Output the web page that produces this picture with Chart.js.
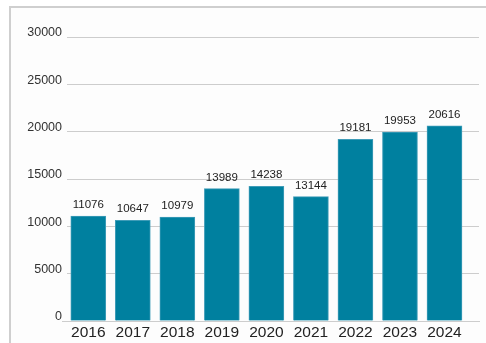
<!DOCTYPE html>
<html>
<head>
<meta charset="utf-8">
<script src="https://cdn.jsdelivr.net/npm/chart.js@4.4.1/dist/chart.umd.min.js"></script>
<style>
  html, body { margin: 0; padding: 0; background: #fff; }
  #wrap { position: relative; width: 486px; height: 343px; }
  #frame {
    position: absolute; left: 9px; top: 6px; right: 0; bottom: 0;
    border-top: 2px solid #cfcfcf; border-left: 2px solid #cfcfcf;
    background: #fdfdfd;
  }
  #chart { position: absolute; left: 0; top: 0; }
</style>
</head>
<body>
<div id="wrap">
  <div id="frame"></div>
  <canvas id="chart" width="486" height="343"></canvas>
</div>
<script>
const years = [2016, 2017, 2018, 2019, 2020, 2021, 2022, 2023, 2024];
const values = [11076, 10647, 10979, 13989, 14238, 13144, 19181, 19953, 20616];
const yTicks = [0, 5000, 10000, 15000, 20000, 25000, 30000];

const BAR = '#00809f';
const GRID = '#cdcdcd';
const FONT = "'Liberation Sans', Arial, sans-serif";

const valueLabels = {
  id: 'valueLabels',
  afterDatasetsDraw(chart) {
    const { ctx } = chart;
    const meta = chart.getDatasetMeta(0);
    ctx.save();
    ctx.font = `11.5px ${FONT}`;
    ctx.fillStyle = '#222';
    ctx.textAlign = 'center';
    ctx.textBaseline = 'alphabetic';
    meta.data.forEach((bar, i) => {
      ctx.fillText(String(values[i]), bar.x, bar.y - 8);
    });
    ctx.restore();
  },
};

new Chart(document.getElementById('chart'), {
  type: 'bar',
  data: {
    datasets: [{
      data: years.map((y, i) => ({ x: y, y: values[i] })),
      backgroundColor: BAR,
      borderColor: '#3f9cb8',
      borderWidth: 1,
      barThickness: 35,
    }],
  },
  options: {
    responsive: false,
    animation: false,
    events: [],
    layout: { padding: { top: 37, right: 7, bottom: 0, left: 0 } },
    plugins: { legend: { display: false }, tooltip: { enabled: false } },
    scales: {
      x: {
        type: 'linear',
        offset: false,
        min: 2015.522,
        max: 2024.775,
        afterFit: s => { s.height = 22; },
        ticks: {
          stepSize: 1,
          includeBounds: false,
          autoSkip: false,
          maxRotation: 0,
          padding: 2,
          color: '#222',
          font: { family: FONT, size: 15.5 },
          callback: v => Number.isInteger(v) ? String(v) : '',
        },
        grid: { display: false, drawTicks: false, offset: false },
        border: { display: true, color: GRID, width: 1 },
      },
      y: {
        min: 0,
        max: 30000,
        afterFit: s => { s.width = 67; },
        afterBuildTicks: s => { s.ticks = yTicks.map(v => ({ value: v })); },
        ticks: {
          padding: 0,
          labelOffset: -4,
          color: '#333',
          font: { family: FONT, size: 12.5 },
          callback: v => String(v),
        },
        grid: {
          color: GRID,
          lineWidth: 1,
          drawTicks: true,
          tickLength: 5,
          tickColor: c => c.tick && c.tick.value === 0 ? GRID : 'rgba(0,0,0,0)',
        },
        border: { display: false },
      },
    },
  },
  plugins: [valueLabels],
});
</script>
</body>
</html>
